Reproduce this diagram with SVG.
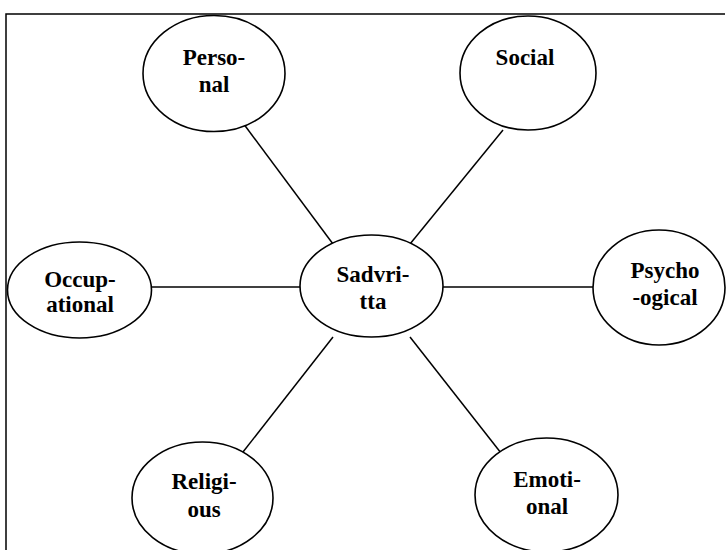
<svg xmlns="http://www.w3.org/2000/svg" width="726" height="550" viewBox="0 0 726 550">
<style>
.n{fill:#fff;stroke:#000;stroke-width:1.6}
.t{font-family:"Liberation Serif","Times New Roman",serif;font-weight:bold;font-size:23px;text-anchor:middle;fill:#000}
.c line{stroke:#000;stroke-width:1.5}
</style>
<rect width="726" height="550" fill="#fff"/>
<path d="M6 550 V14 H725" fill="none" stroke="#000" stroke-width="1.5"/>
<g class="c" id="connectors">
<line x1="243" y1="123" x2="333" y2="244"/>
<line x1="503" y1="130" x2="410" y2="244"/>
<line x1="152" y1="287" x2="300" y2="287"/>
<line x1="443" y1="287" x2="593" y2="287"/>
<line x1="243" y1="452" x2="333" y2="337"/>
<line x1="501" y1="453" x2="410" y2="337"/>
</g>
<g id="personal"><ellipse class="n" cx="214" cy="73.5" rx="71" ry="58"/><text class="t" x="214" y="65">Perso-</text><text class="t" x="214" y="92">nal</text></g>
<g id="social"><ellipse class="n" cx="528" cy="73" rx="68" ry="57"/><text class="t" x="525" y="65">Social</text></g>
<g id="occupational"><ellipse class="n" cx="79.5" cy="290" rx="72" ry="48"/><text class="t" x="80" y="287">Occup-</text><text class="t" x="80" y="312">ational</text></g>
<g id="sadvritta"><ellipse class="n" cx="371.5" cy="286" rx="71.5" ry="51"/><text class="t" x="373" y="282">Sadvri-</text><text class="t" x="373" y="309">tta</text></g>
<g id="psychological"><ellipse class="n" cx="659" cy="287.5" rx="66" ry="57.5"/><text class="t" x="665" y="278">Psycho</text><text class="t" x="665" y="305">-ogical</text></g>
<g id="religious"><ellipse class="n" cx="202.5" cy="498" rx="70.5" ry="56"/><text class="t" x="204" y="489">Religi-</text><text class="t" x="204" y="517">ous</text></g>
<g id="emotional"><ellipse class="n" cx="546.5" cy="495" rx="71.5" ry="57"/><text class="t" x="547" y="487">Emoti-</text><text class="t" x="547" y="514">onal</text></g>
</svg>
